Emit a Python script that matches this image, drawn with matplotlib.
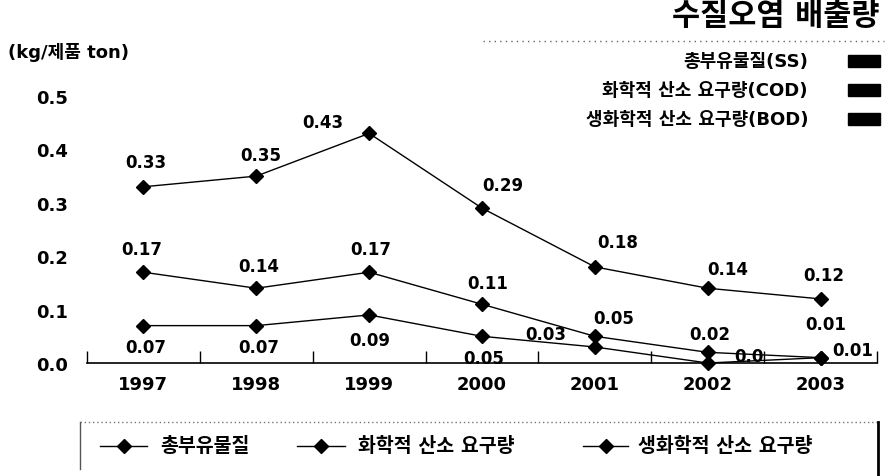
import numpy as np
import matplotlib
matplotlib.use("Agg")
import matplotlib.pyplot as plt
from matplotlib.lines import Line2D
from matplotlib.patches import Rectangle

plt.rcParams['font.family'] = ['DejaVu Sans', 'Noto Sans CJK KR']
plt.rcParams['font.weight'] = 'bold'

# data
years = ['1997', '1998', '1999', '2000', '2001', '2002', '2003']
ss = [0.33, 0.35, 0.43, 0.29, 0.18, 0.14, 0.12]
cod = [0.17, 0.14, 0.17, 0.11, 0.05, 0.02, 0.01]
bod = [0.07, 0.07, 0.09, 0.05, 0.03, 0.0, 0.01]
ss_labels = ['0.33', '0.35', '0.43', '0.29', '0.18', '0.14', '0.12']
cod_labels = ['0.17', '0.14', '0.17', '0.11', '0.05', '0.02', '0.01']
bod_labels = ['0.07', '0.07', '0.09', '0.05', '0.03', '0.0', '0.01']
series_names = ['총부유물질', '화학적 산소 요구량', '생화학적 산소 요구량']
box_names = ['총부유물질(SS)', '화학적 산소 요구량(COD)', '생화학적 산소 요구량(BOD)']
yticks = [0.0, 0.1, 0.2, 0.3, 0.4, 0.5]

# label offsets in pixels (dx right, dy down)
ss_off = [(2, -25), (4, -21), (-46, -11), (21, -23), (23, -25), (20, -19), (3, -24)]
cod_off = [(-2, -23), (2, -22), (2, -23), (6, -21), (19, -18), (2, -18), (5, -34)]
bod_off = [(2, 21), (2, 21), (1, 25), (2, 22), (-49, -13), (41, -7), (32, -8)]

W, H = 886, 477
fig = plt.figure(figsize=(W / 100, H / 100), dpi=100)
ax = fig.add_axes([87 / W, 1 - 364 / H, 790 / W, 267 / H])

x = np.arange(len(years))
for vals, labs, offs in [(ss, ss_labels, ss_off), (cod, cod_labels, cod_off), (bod, bod_labels, bod_off)]:
    ax.plot(x, vals, color='black', lw=1, marker='D', ms=7, mfc='black', mec='black', clip_on=False)
    for xi, v, lab, (dx, dy) in zip(x, vals, labs, offs):
        ax.annotate(lab, (xi, v), xytext=(dx * 0.72, -dy * 0.72), textcoords='offset points',
                    ha='center', va='center', fontsize=12, fontweight='bold', annotation_clip=False)

ax.set_xlim(-0.5, 6.5)
ax.set_ylim(0, 0.5)
ax.set_xticks(x)
ax.set_xticklabels(years, fontsize=13, fontweight='bold')
ax.set_xticks(np.arange(-0.5, 7, 1), minor=True)
ax.tick_params(axis='x', which='major', length=0, pad=9)
ax.tick_params(axis='x', which='minor', direction='in', length=9, width=1, color='black')
ax.set_yticks(yticks)
ax.set_yticklabels(['%.1f' % t for t in yticks], fontsize=13, fontweight='bold')
ax.tick_params(axis='y', length=0, pad=14)
for s in ['left', 'top', 'right']:
    ax.spines[s].set_visible(False)
ax.spines['bottom'].set_linewidth(1.2)
ax.patch.set_alpha(0)

# unit label
fig.text(8 / W, 1 - 53 / H, '(kg/제품 ton)', fontsize=13, fontweight='bold', ha='left', va='center')

# title and box legend at upper right
fig.text(880 / W, 1 - 16 / H, '수질오염 배출량', fontsize=22, fontweight='bold', ha='right', va='center')
fig.add_artist(Line2D([483 / W, 884 / W], [1 - 42 / H, 1 - 42 / H], color='#666666', lw=1, ls=(0, (1, 3))))
for i, name in enumerate(box_names):
    yc = [62, 91, 120][i]
    fig.text(808 / W, 1 - yc / H, name, fontsize=13, fontweight='bold', ha='right', va='center')
    fig.add_artist(Rectangle((848 / W, 1 - (yc + 6) / H), 32 / W, 12 / H, color='black', transform=fig.transFigure))

# bottom legend, drawn by hand to follow the original spacing
ly = 1 - 447 / H
fig.add_artist(Line2D([80 / W, 878 / W], [1 - 423 / H] * 2, color='#777777', lw=1, ls=(0, (1, 2))))
fig.add_artist(Line2D([80 / W, 80 / W], [1 - 423 / H, 1 - 470 / H], color='#555555', lw=1))
fig.add_artist(Line2D([878 / W, 878 / W], [1 - 423 / H, 1 - 477 / H], color='black', lw=2))
for name, (x0, x1, tx) in zip(series_names, [(100, 147, 160), (297, 345, 358), (583, 628, 638)]):
    fig.add_artist(Line2D([x0 / W, x1 / W], [ly, ly], color='black', lw=1))
    fig.add_artist(Line2D([(x0 + x1) / 2 / W], [ly], color='black', marker='D', ms=7))
    fig.text(tx / W, ly, name, fontsize=14, fontweight='bold', ha='left', va='center')

fig.savefig('out.png', dpi=100)
